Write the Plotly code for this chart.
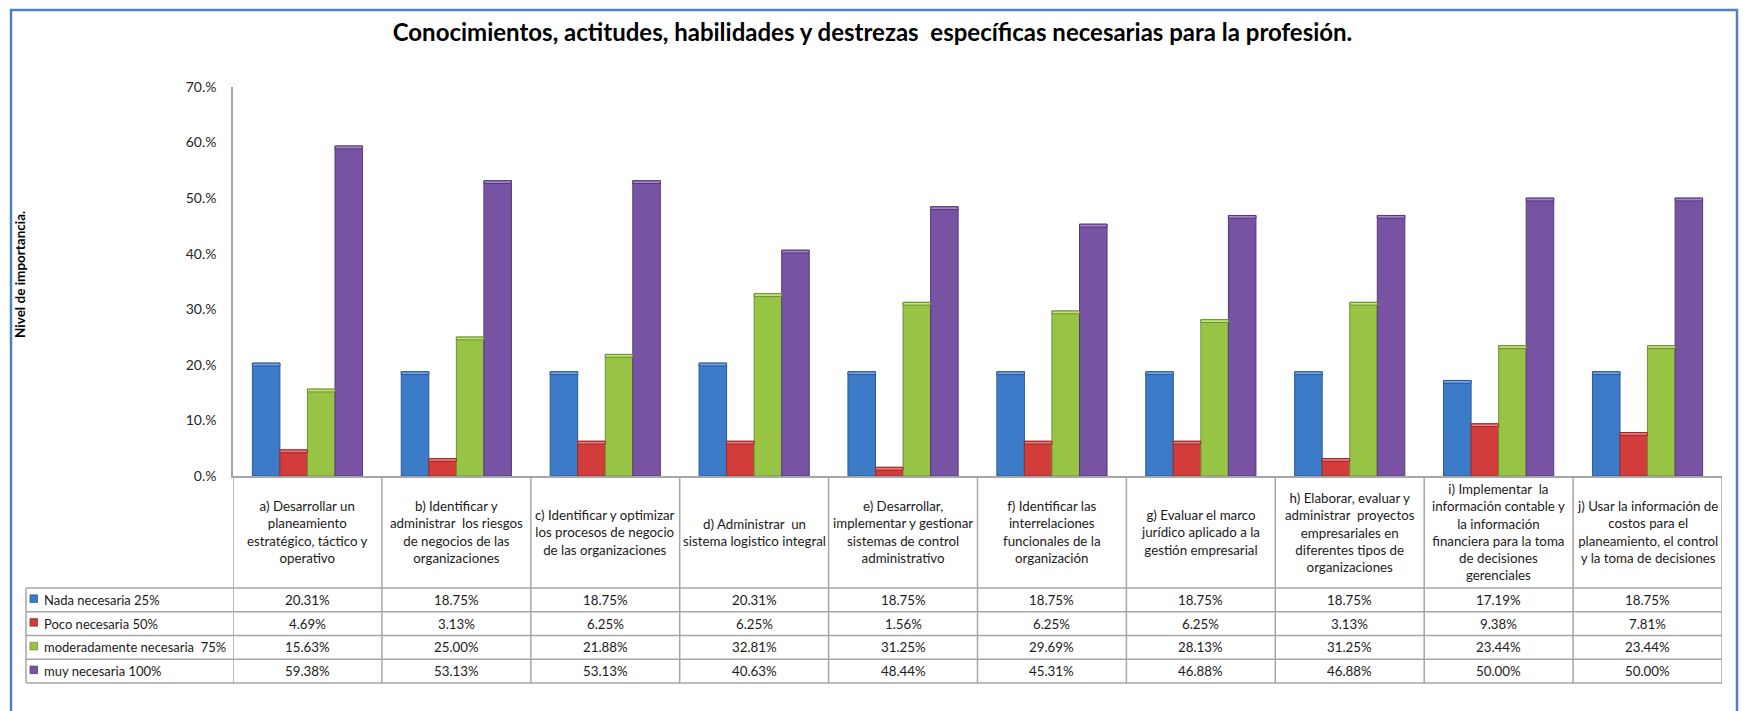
import plotly.graph_objects as go

# ---------------- data ----------------
categories = [
    "a) Desarrollar un<br>planeamiento<br>estratégico, táctico y<br>operativo",
    "b) Identificar y<br>administrar  los riesgos<br>de negocios de las<br>organizaciones",
    "c) Identificar y optimizar<br>los procesos de negocio<br>de las organizaciones",
    "d) Administrar  un<br>sistema logistico integral",
    "e) Desarrollar,<br>implementar y gestionar<br>sistemas de control<br>administrativo",
    "f) Identificar las<br>interrelaciones<br>funcionales de la<br>organización",
    "g) Evaluar el marco<br>jurídico aplicado a la<br>gestión empresarial",
    "h) Elaborar, evaluar y<br>administrar  proyectos<br>empresariales en<br>diferentes tipos de<br>organizaciones",
    "i) Implementar  la<br>información contable y<br>la información<br>financiera para la toma<br>de decisiones<br>gerenciales",
    "j) Usar la información de<br>costos para el<br>planeamiento, el control<br>y la toma de decisiones",
]
series_names = [
    "Nada necesaria 25%",
    "Poco necesaria 50%",
    "moderadamente necesaria  75%",
    "muy necesaria 100%",
]
nada = [20.31, 18.75, 18.75, 20.31, 18.75, 18.75, 18.75, 18.75, 17.19, 18.75]
poco = [4.69, 3.13, 6.25, 6.25, 1.56, 6.25, 6.25, 3.13, 9.38, 7.81]
moderada = [15.63, 25.00, 21.88, 32.81, 31.25, 29.69, 28.13, 31.25, 23.44, 23.44]
muy = [59.38, 53.13, 53.13, 40.63, 48.44, 45.31, 46.88, 46.88, 50.00, 50.00]
y_tick_vals = [0, 10, 20, 30, 40, 50, 60, 70]
y_tick_text = ["0.%", "10.%", "20.%", "30.%", "40.%", "50.%", "60.%", "70.%"]

title = "Conocimientos, actitudes, habilidades y destrezas  específicas necesarias para la profesión."
y_title = "Nivel de importancia."

series_values = [nada, poco, moderada, muy]
colors = ["#3C7BC8", "#D23C3A", "#98C446", "#7853A3"]
outline = ["#2A5A96", "#9A2A28", "#6E9030", "#553A78"]
caps = ["#6FA6E6", "#EE7A78", "#C2E47A", "#A283CC"]

# ---------------- geometry (pixels) ----------------
W, H = 1745, 711
L, R, T, B = 233, 1722, 87, 476
FONT = "Lato, Carlito, Calibri, sans-serif"
GRID = "#A6A6A6"
CAP = 0.5  # bevel height of the bar tops, in axis units


def py(p):
    return (B - p) / (B - T)


def px(p):
    return (p - L) / (R - L)


n = len(categories)
xs = list(range(n))

fig = go.Figure()
for k, (name, vals, c, oc) in enumerate(zip(series_names, series_values, colors, outline)):
    fig.add_trace(go.Bar(
        x=xs, y=vals, name=name, offsetgroup=str(k),
        marker=dict(color=c, line=dict(color=oc, width=1)),
        hoverinfo="y+name",
    ))
for k, (vals, cc, oc) in enumerate(zip(series_values, caps, outline)):
    fig.add_trace(go.Bar(
        x=xs, y=[CAP] * n, base=[v - CAP for v in vals], offsetgroup=str(k),
        marker=dict(color=cc, line=dict(color=oc, width=1)),
        hoverinfo="skip", showlegend=False,
    ))

shapes = []
annotations = []

# outer frame
shapes.append(dict(type="rect", xref="paper", yref="paper",
                   x0=px(11), x1=px(1737), y0=py(760), y1=py(10),
                   line=dict(color="#4F81BD", width=2.5), layer="below"))

# table geometry
header_bottom = 588
row_edges = [588, 611.75, 635.5, 659.25, 683]
table_left = 26

for i in range(n + 1):
    shapes.append(dict(type="line", xref="x", yref="paper",
                       x0=i - 0.5, x1=i - 0.5, y0=py(B), y1=py(row_edges[-1]),
                       line=dict(color=GRID, width=1.5)))
shapes.append(dict(type="line", xref="paper", yref="paper",
                   x0=px(table_left), x1=px(table_left),
                   y0=py(row_edges[0]), y1=py(row_edges[-1]),
                   line=dict(color=GRID, width=1.5)))
for e in row_edges:
    shapes.append(dict(type="line", xref="paper", yref="paper",
                       x0=px(table_left), x1=1, y0=py(e), y1=py(e),
                       line=dict(color=GRID, width=1.5)))

for i, cat in enumerate(categories):
    annotations.append(dict(xref="x", yref="paper", x=i, y=py((B + header_bottom) / 2),
                            text=cat, showarrow=False, align="center",
                            xanchor="center", yanchor="middle",
                            font=dict(family=FONT, size=13.3, color="#1a1a1a")))

for r, (name, vals, c, oc) in enumerate(zip(series_names, series_values, colors, outline)):
    yc = (row_edges[r] + row_edges[r + 1]) / 2
    shapes.append(dict(type="rect", xref="paper", yref="paper",
                       x0=px(30), x1=px(37.5), y0=py(yc + 2.5), y1=py(yc - 5),
                       fillcolor=c, line=dict(color=oc, width=0.8)))
    annotations.append(dict(xref="paper", yref="paper", x=px(42), y=py(yc),
                            text=name, showarrow=False, xanchor="left", yanchor="middle",
                            font=dict(family=FONT, size=13, color="#1a1a1a")))
    for i, v in enumerate(vals):
        annotations.append(dict(xref="x", yref="paper", x=i, y=py(yc),
                                text=f"{v:.2f}%", showarrow=False,
                                xanchor="center", yanchor="middle",
                                font=dict(family=FONT, size=13.3, color="#1a1a1a")))

annotations.append(dict(xref="paper", yref="paper", x=px(20), y=py(275),
                        text=f"<b>{y_title}</b>", textangle=-90, showarrow=False,
                        xanchor="center", yanchor="middle",
                        font=dict(family=FONT, size=13.5, color="#000000")))

fig.update_layout(
    width=W, height=H,
    margin=dict(l=L, r=W - R, t=T, b=H - B, pad=0),
    paper_bgcolor="white", plot_bgcolor="white",
    title=dict(text=f"<b>{title}</b>", x=0.5, xanchor="center",
               y=1 - 33 / H, yanchor="middle",
               font=dict(family=FONT, size=24, color="#000000")),
    barmode="group", bargap=0.26, bargroupgap=0,
    showlegend=False,
    xaxis=dict(range=[-0.5, n - 0.5], showticklabels=False, ticks="",
               showgrid=False, zeroline=False, showline=True,
               linecolor=GRID, linewidth=1.5, fixedrange=True),
    yaxis=dict(range=[0, 70], tickvals=y_tick_vals, ticktext=y_tick_text,
               showgrid=False, zeroline=False, showline=True,
               linecolor=GRID, linewidth=1.5, ticks="", ticklabelstandoff=12,
               tickfont=dict(family=FONT, size=14, color="#262626"),
               fixedrange=True),
    shapes=shapes, annotations=annotations,
)

fig.write_html("out.html", config={"displayModeBar": False},
               post_script="document.body.style.margin='0';document.body.style.overflow='hidden';")
